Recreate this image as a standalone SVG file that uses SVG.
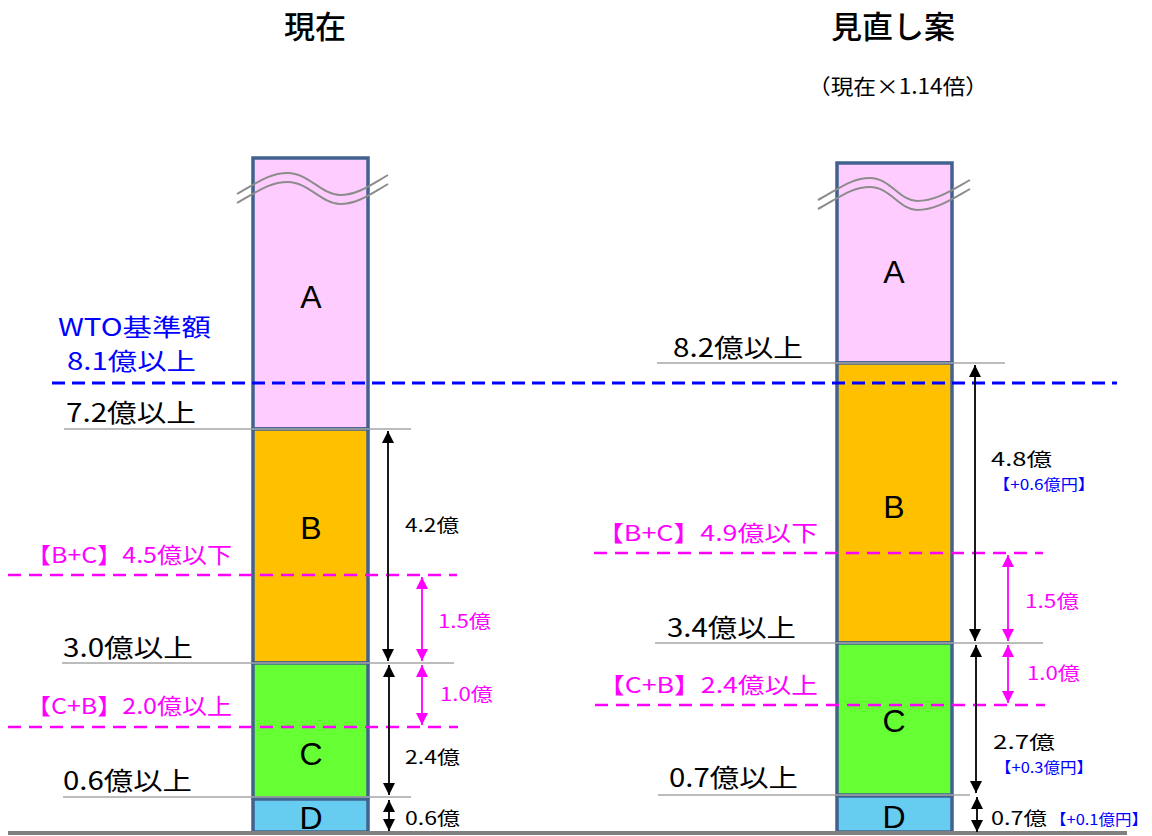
<svg xmlns="http://www.w3.org/2000/svg" width="1152" height="836" viewBox="0 0 1152 836">
<style>
text{font-family:"Noto Sans CJK JP","Noto Sans",sans-serif;}
.title{font-size:31px;font-weight:500;fill:#000;text-anchor:middle;}
.sub{font-size:21px;fill:#000;}
.seg{stroke:#41628F;stroke-width:3.5;}
.letter{font-family:"Liberation Sans",Arial,sans-serif;font-size:32px;fill:#000;text-anchor:middle;}
.lvl{font-size:25px;fill:#000;}
.wto{font-size:24px;fill:#0000FF;}
.mlbl{font-size:22px;fill:#FF00FF;}
.amt{font-size:18px;fill:#000;}
.mamt{font-size:18px;fill:#FF00FF;}
.inc{font-size:15px;fill:#0000FF;}
.gray{stroke:#A6A6A6;stroke-width:1.6;fill:none;}
.mdash{stroke:#FF00FF;stroke-width:2.5;stroke-dasharray:13 8;fill:none;}
.bdash{stroke:#0000FF;stroke-width:3;stroke-dasharray:13 7;fill:none;}
.barr{stroke:#000;stroke-width:1.8;fill:none;marker-start:url(#ab);marker-end:url(#ab);}
.marr{stroke:#FF00FF;stroke-width:1.8;fill:none;marker-start:url(#am);marker-end:url(#am);}
.wave{stroke:#8C8C8C;stroke-width:2;fill:none;}
</style>
<defs>
<marker id="ab" markerUnits="userSpaceOnUse" markerWidth="12" markerHeight="12" refX="12" refY="6" orient="auto-start-reverse"><path d="M0,0 L12,6 L0,12 z" fill="#000"/></marker>
<marker id="am" markerUnits="userSpaceOnUse" markerWidth="12" markerHeight="12" refX="12" refY="6" orient="auto-start-reverse"><path d="M0,0 L12,6 L0,12 z" fill="#FF00FF"/></marker>
</defs>
<rect x="0" y="0" width="1152" height="836" fill="#fff"/>

<g id="titles">
<text class="title" x="315" y="38">現在</text>
<text class="title" x="893" y="38">見直し案</text>
<text class="sub" x="808" y="94" textLength="180" lengthAdjust="spacingAndGlyphs">（現在×1.14倍）</text>
</g>

<g id="col-current">
<g id="cur-A"><rect class="seg" x="253" y="158" width="115" height="271" fill="#FFCCFF"/><text class="letter" x="311" y="308">A</text></g>
<g id="cur-B"><rect class="seg" x="253" y="429" width="115" height="234" fill="#FFC000"/><text class="letter" x="311" y="539">B</text></g>
<g id="cur-C"><rect class="seg" x="253" y="663" width="115" height="135" fill="#66FF33"/><text class="letter" x="311" y="765">C</text></g>
<g id="cur-D"><rect class="seg" x="253" y="799" width="115" height="33" fill="#66CCF0"/><text class="letter" x="311" y="829">D</text></g>
<path class="wave" d="M237,194 C258,182 270,173 288,173 C308,173 322,195 340,195 C358,195 372,184 388,175"/>
<path class="wave" d="M237,203 C258,191 270,182 288,182 C308,182 322,204 340,204 C358,204 372,193 388,184"/>
</g>

<g id="col-proposal">
<g id="new-A"><rect class="seg" x="837" y="163" width="115" height="200" fill="#FFCCFF"/><text class="letter" x="894" y="283">A</text></g>
<g id="new-B"><rect class="seg" x="837" y="363" width="115" height="280" fill="#FFC000"/><text class="letter" x="894" y="518">B</text></g>
<g id="new-C"><rect class="seg" x="837" y="643" width="115" height="152" fill="#66FF33"/><text class="letter" x="894" y="732">C</text></g>
<g id="new-D"><rect class="seg" x="837" y="796" width="115" height="36" fill="#66CCF0"/><text class="letter" x="894" y="828">D</text></g>
<path class="wave" d="M818,200 C840,188 852,178 870,178 C890,178 900,201 917,201 C936,201 952,190 970,180"/>
<path class="wave" d="M818,209 C840,197 852,187 870,187 C890,187 900,210 917,210 C936,210 952,199 970,189"/>
</g>

<g id="connectors">
<line x1="8" y1="833" x2="1127" y2="833" stroke="#808080" stroke-width="4"/>
<line class="gray" x1="64" y1="429" x2="411" y2="429"/>
<line class="gray" x1="62" y1="663" x2="454" y2="663"/>
<line class="gray" x1="63" y1="797" x2="411" y2="797"/>
<line class="gray" x1="657" y1="363" x2="1005" y2="363"/>
<line class="gray" x1="655" y1="643" x2="1043" y2="643"/>
<line class="gray" x1="658" y1="795" x2="970" y2="795"/>
<line class="bdash" x1="52" y1="383" x2="1117" y2="383"/>
<line class="mdash" x1="8" y1="575" x2="457" y2="575"/>
<line class="mdash" x1="8" y1="727" x2="458" y2="727"/>
<line class="mdash" x1="594" y1="553" x2="1043" y2="553"/>
<line class="mdash" x1="595" y1="705" x2="1045" y2="705"/>
<line class="barr" x1="388" y1="431" x2="388" y2="661"/>
<line class="barr" x1="389" y1="665" x2="389" y2="795"/>
<line class="barr" x1="389" y1="800" x2="389" y2="831"/>
<line class="marr" x1="422" y1="577" x2="422" y2="661"/>
<line class="marr" x1="422" y1="665" x2="422" y2="725"/>
<line class="barr" x1="975" y1="365" x2="975" y2="641"/>
<line class="barr" x1="976" y1="645" x2="976" y2="793"/>
<line class="barr" x1="977" y1="797" x2="977" y2="832"/>
<line class="marr" x1="1008" y1="555" x2="1008" y2="641"/>
<line class="marr" x1="1008" y1="645" x2="1008" y2="703"/>
</g>

<g id="labels-current">
<text class="wto" x="58" y="336" textLength="153" lengthAdjust="spacingAndGlyphs">WTO基準額</text>
<text class="wto" x="67" y="370" textLength="129" lengthAdjust="spacingAndGlyphs">8.1億以上</text>
<text class="lvl" x="66" y="422" textLength="130" lengthAdjust="spacingAndGlyphs">7.2億以上</text>
<text class="mlbl" x="26" y="563" textLength="206" lengthAdjust="spacingAndGlyphs">【B+C】4.5億以下</text>
<text class="lvl" x="63" y="657" textLength="130" lengthAdjust="spacingAndGlyphs">3.0億以上</text>
<text class="mlbl" x="26" y="714" textLength="206" lengthAdjust="spacingAndGlyphs">【C+B】2.0億以上</text>
<text class="lvl" x="63" y="790" textLength="129" lengthAdjust="spacingAndGlyphs">0.6億以上</text>
<text class="amt" x="405" y="532" textLength="54" lengthAdjust="spacingAndGlyphs">4.2億</text>
<text class="mamt" x="438" y="628" textLength="53" lengthAdjust="spacingAndGlyphs">1.5億</text>
<text class="mamt" x="440" y="701" textLength="53" lengthAdjust="spacingAndGlyphs">1.0億</text>
<text class="amt" x="405" y="764" textLength="55" lengthAdjust="spacingAndGlyphs">2.4億</text>
<text class="amt" x="405" y="825" textLength="55" lengthAdjust="spacingAndGlyphs">0.6億</text>
</g>

<g id="labels-proposal">
<text class="lvl" x="673" y="357" textLength="130" lengthAdjust="spacingAndGlyphs">8.2億以上</text>
<text class="amt" x="991" y="466" textLength="61" lengthAdjust="spacingAndGlyphs">4.8億</text>
<text class="inc" x="993" y="490" textLength="102" lengthAdjust="spacingAndGlyphs">【+0.6億円】</text>
<text class="mlbl" x="597" y="541" textLength="221" lengthAdjust="spacingAndGlyphs">【B+C】4.9億以下</text>
<text class="mamt" x="1025" y="608" textLength="54" lengthAdjust="spacingAndGlyphs">1.5億</text>
<text class="lvl" x="667" y="637" textLength="129" lengthAdjust="spacingAndGlyphs">3.4億以上</text>
<text class="mamt" x="1027" y="680" textLength="53" lengthAdjust="spacingAndGlyphs">1.0億</text>
<text class="mlbl" x="598" y="693" textLength="220" lengthAdjust="spacingAndGlyphs">【C+B】2.4億以上</text>
<text class="amt" x="993" y="749" textLength="62" lengthAdjust="spacingAndGlyphs">2.7億</text>
<text class="inc" x="995" y="773" textLength="98" lengthAdjust="spacingAndGlyphs">【+0.3億円】</text>
<text class="lvl" x="669" y="787" textLength="129" lengthAdjust="spacingAndGlyphs">0.7億以上</text>
<text class="amt" x="991" y="825" textLength="56" lengthAdjust="spacingAndGlyphs">0.7億</text>
<text class="inc" x="1050" y="825" textLength="98" lengthAdjust="spacingAndGlyphs">【+0.1億円】</text>
</g>
</svg>
